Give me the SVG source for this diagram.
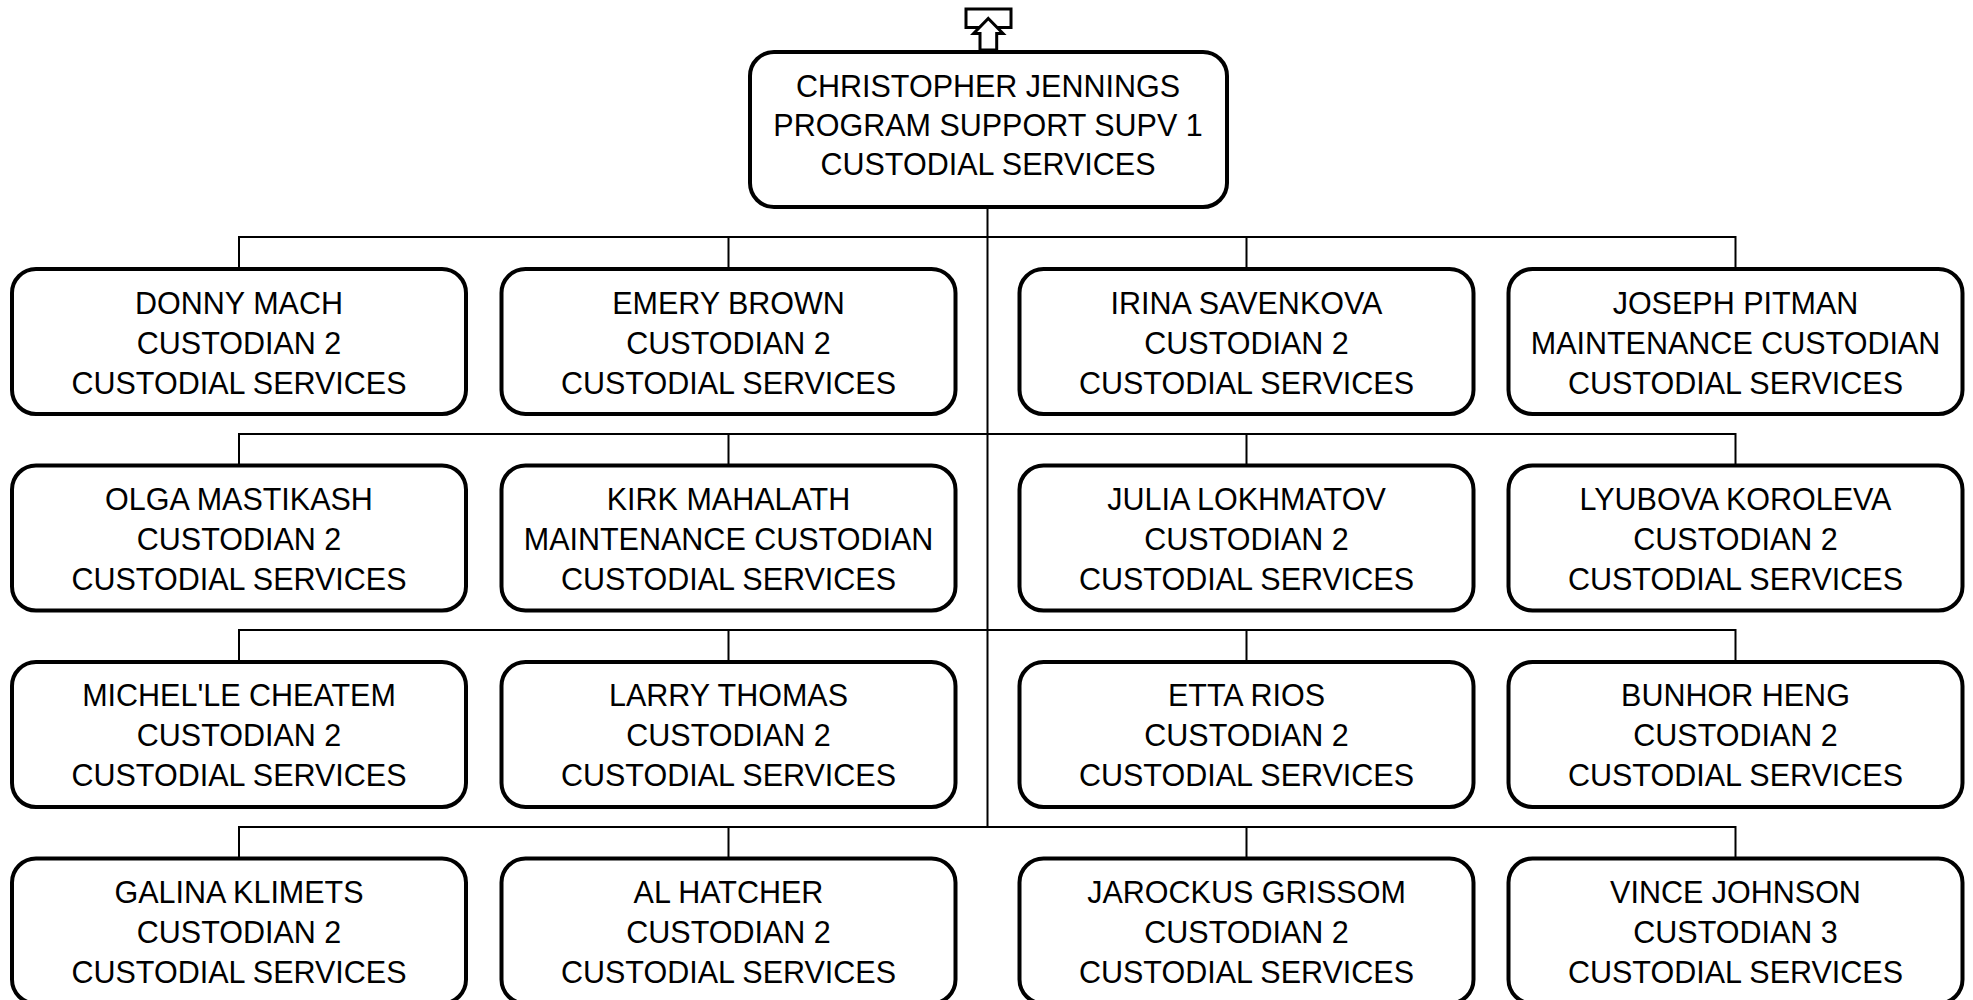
<svg xmlns="http://www.w3.org/2000/svg" width="1973" height="1000" viewBox="0 0 1973 1000">
<style>
.box{fill:#fff;stroke:#000;stroke-width:4}
.t{font-family:"Liberation Sans",Arial,sans-serif;font-size:30.5px;fill:#000;text-anchor:middle}
.c{fill:none;stroke:#000;stroke-width:2}
</style>
<rect width="1973" height="1000" fill="#fff"/>
<g id="connectors">
<path class="c" d="M987.5 207V828"/>
<path class="c" d="M239 269V237H1735.5V269M728.5 237V269M1246.5 237V269"/>
<path class="c" d="M239 465.5V434H1735.5V465.5M728.5 434V465.5M1246.5 434V465.5"/>
<path class="c" d="M239 662V630H1735.5V662M728.5 630V662M1246.5 630V662"/>
<path class="c" d="M239 858.5V827H1735.5V858.5M728.5 827V858.5M1246.5 827V858.5"/>
</g>
<g id="up-icon">
<rect x="966" y="9" width="45" height="18.5" fill="#fff" stroke="#000" stroke-width="3"/>
<polygon points="988.3,18.5 1003,33.5 996.7,33.5 996.7,50 980,50 980,33.5 973.6,33.5" fill="#fff" stroke="#000" stroke-width="3" stroke-linejoin="miter"/>
</g>
<g id="n-jennings">
<rect class="box" x="750" y="52" width="477" height="155" rx="24"/>
<text class="t" x="988" y="96.5">CHRISTOPHER JENNINGS</text>
<text class="t" x="988" y="135.5">PROGRAM SUPPORT SUPV 1</text>
<text class="t" x="988" y="174.5">CUSTODIAL SERVICES</text>
</g>
<g id="n-mach">
<rect class="box" x="12" y="269" width="454" height="145" rx="24"/>
<text class="t" x="239" y="313.5">DONNY MACH</text>
<text class="t" x="239" y="353.5">CUSTODIAN 2</text>
<text class="t" x="239" y="393.5">CUSTODIAL SERVICES</text>
</g>
<g id="n-brown">
<rect class="box" x="501.5" y="269" width="454" height="145" rx="24"/>
<text class="t" x="728.5" y="313.5">EMERY BROWN</text>
<text class="t" x="728.5" y="353.5">CUSTODIAN 2</text>
<text class="t" x="728.5" y="393.5">CUSTODIAL SERVICES</text>
</g>
<g id="n-savenkova">
<rect class="box" x="1019.5" y="269" width="454" height="145" rx="24"/>
<text class="t" x="1246.5" y="313.5">IRINA SAVENKOVA</text>
<text class="t" x="1246.5" y="353.5">CUSTODIAN 2</text>
<text class="t" x="1246.5" y="393.5">CUSTODIAL SERVICES</text>
</g>
<g id="n-pitman">
<rect class="box" x="1508.5" y="269" width="454" height="145" rx="24"/>
<text class="t" x="1735.5" y="313.5">JOSEPH PITMAN</text>
<text class="t" x="1735.5" y="353.5">MAINTENANCE CUSTODIAN</text>
<text class="t" x="1735.5" y="393.5">CUSTODIAL SERVICES</text>
</g>
<g id="n-mastikash">
<rect class="box" x="12" y="465.5" width="454" height="145" rx="24"/>
<text class="t" x="239" y="509.5">OLGA MASTIKASH</text>
<text class="t" x="239" y="549.5">CUSTODIAN 2</text>
<text class="t" x="239" y="589.5">CUSTODIAL SERVICES</text>
</g>
<g id="n-mahalath">
<rect class="box" x="501.5" y="465.5" width="454" height="145" rx="24"/>
<text class="t" x="728.5" y="509.5">KIRK MAHALATH</text>
<text class="t" x="728.5" y="549.5">MAINTENANCE CUSTODIAN</text>
<text class="t" x="728.5" y="589.5">CUSTODIAL SERVICES</text>
</g>
<g id="n-lokhmatov">
<rect class="box" x="1019.5" y="465.5" width="454" height="145" rx="24"/>
<text class="t" x="1246.5" y="509.5">JULIA LOKHMATOV</text>
<text class="t" x="1246.5" y="549.5">CUSTODIAN 2</text>
<text class="t" x="1246.5" y="589.5">CUSTODIAL SERVICES</text>
</g>
<g id="n-koroleva">
<rect class="box" x="1508.5" y="465.5" width="454" height="145" rx="24"/>
<text class="t" x="1735.5" y="509.5">LYUBOVA KOROLEVA</text>
<text class="t" x="1735.5" y="549.5">CUSTODIAN 2</text>
<text class="t" x="1735.5" y="589.5">CUSTODIAL SERVICES</text>
</g>
<g id="n-cheatem">
<rect class="box" x="12" y="662" width="454" height="145" rx="24"/>
<text class="t" x="239" y="706">MICHEL'LE CHEATEM</text>
<text class="t" x="239" y="746">CUSTODIAN 2</text>
<text class="t" x="239" y="786">CUSTODIAL SERVICES</text>
</g>
<g id="n-thomas">
<rect class="box" x="501.5" y="662" width="454" height="145" rx="24"/>
<text class="t" x="728.5" y="706">LARRY THOMAS</text>
<text class="t" x="728.5" y="746">CUSTODIAN 2</text>
<text class="t" x="728.5" y="786">CUSTODIAL SERVICES</text>
</g>
<g id="n-rios">
<rect class="box" x="1019.5" y="662" width="454" height="145" rx="24"/>
<text class="t" x="1246.5" y="706">ETTA RIOS</text>
<text class="t" x="1246.5" y="746">CUSTODIAN 2</text>
<text class="t" x="1246.5" y="786">CUSTODIAL SERVICES</text>
</g>
<g id="n-heng">
<rect class="box" x="1508.5" y="662" width="454" height="145" rx="24"/>
<text class="t" x="1735.5" y="706">BUNHOR HENG</text>
<text class="t" x="1735.5" y="746">CUSTODIAN 2</text>
<text class="t" x="1735.5" y="786">CUSTODIAL SERVICES</text>
</g>
<g id="n-klimets">
<rect class="box" x="12" y="858.5" width="454" height="145" rx="24"/>
<text class="t" x="239" y="902.5">GALINA KLIMETS</text>
<text class="t" x="239" y="942.5">CUSTODIAN 2</text>
<text class="t" x="239" y="982.5">CUSTODIAL SERVICES</text>
</g>
<g id="n-hatcher">
<rect class="box" x="501.5" y="858.5" width="454" height="145" rx="24"/>
<text class="t" x="728.5" y="902.5">AL HATCHER</text>
<text class="t" x="728.5" y="942.5">CUSTODIAN 2</text>
<text class="t" x="728.5" y="982.5">CUSTODIAL SERVICES</text>
</g>
<g id="n-grissom">
<rect class="box" x="1019.5" y="858.5" width="454" height="145" rx="24"/>
<text class="t" x="1246.5" y="902.5">JAROCKUS GRISSOM</text>
<text class="t" x="1246.5" y="942.5">CUSTODIAN 2</text>
<text class="t" x="1246.5" y="982.5">CUSTODIAL SERVICES</text>
</g>
<g id="n-johnson">
<rect class="box" x="1508.5" y="858.5" width="454" height="145" rx="24"/>
<text class="t" x="1735.5" y="902.5">VINCE JOHNSON</text>
<text class="t" x="1735.5" y="942.5">CUSTODIAN 3</text>
<text class="t" x="1735.5" y="982.5">CUSTODIAL SERVICES</text>
</g>
</svg>
